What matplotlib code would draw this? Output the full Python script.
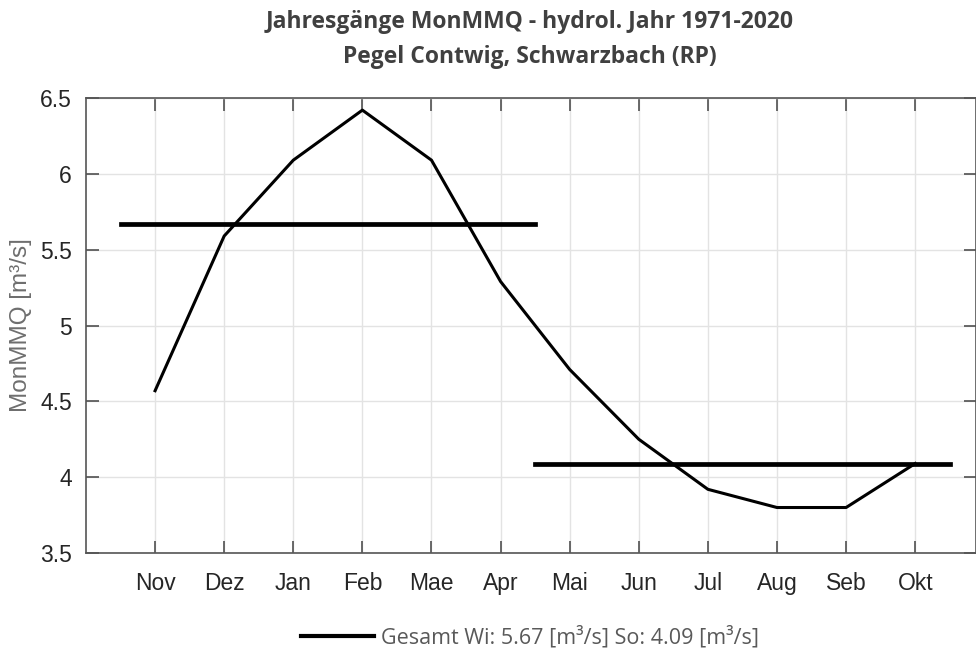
import matplotlib.pyplot as plt
import numpy as np

monate = ['Nov', 'Dez', 'Jan', 'Feb', 'Mae', 'Apr', 'Mai', 'Jun', 'Jul', 'Aug', 'Seb', 'Okt']
monmmq = [4.57, 5.59, 6.09, 6.42, 6.09, 5.29, 4.71, 4.25, 3.92, 3.80, 3.80, 4.09]
mq_winter = 5.67
mq_sommer = 4.09

fig = plt.figure(figsize=(9.76, 6.55), dpi=100)
ax = fig.add_axes([0.0881, 0.1557, 0.9119, 0.6947])

x = np.arange(1, len(monate) + 1)
ax.plot(x, monmmq, color='black', lw=2.2, label='Gesamt Wi: %.2f [m³/s] So: %.2f [m³/s]' % (mq_winter, mq_sommer))
ax.plot([0.5, 6.5], [mq_winter, mq_winter], color='black', lw=3.4)
ax.plot([6.5, 12.5], [mq_sommer, mq_sommer], color='black', lw=3.4)

ax.set_xlim(0, 12.88)
ax.set_ylim(3.5, 6.5)
ax.set_xticks(x)
ax.set_xticklabels(monate)
ax.set_yticks([3.5, 4, 4.5, 5, 5.5, 6, 6.5])
ax.set_yticklabels(['3.5', '4', '4.5', '5', '5.5', '6', '6.5'])
ax.grid(True, color='#e3e3e3', lw=1)
ax.set_axisbelow(True)
ax.tick_params(direction='in', top=True, right=True, length=9, width=1.2,
               color='#505050', labelcolor='#262626', labelsize=16.5)
ax.tick_params(axis='x', pad=14)
ax.tick_params(axis='y', pad=10)
for lbl in ax.get_xticklabels() + ax.get_yticklabels():
    lbl.set_family('Liberation Sans')
for s in ax.spines.values():
    s.set_color('#555555')
    s.set_linewidth(1.2)

ax.set_ylabel('MonMMQ [m³/s]', fontsize=17.5, color='#6e6e6e', family='Liberation Sans', labelpad=6)

fig.text(0.543, 0.985, 'Jahresgänge MonMMQ - hydrol. Jahr 1971-2020', ha='center', va='top',
         fontsize=16.5, fontweight='bold', color='#404040', family='Open Sans')
fig.text(0.543, 0.932, 'Pegel Contwig, Schwarzbach (RP)', ha='center', va='top',
         fontsize=16.5, fontweight='bold', color='#404040', family='Open Sans')

leg = fig.legend(loc='center', bbox_to_anchor=(0.543, 0.027), frameon=False,
                 prop={'family': 'Open Sans', 'size': 15.5}, handlelength=3.4, handletextpad=0.3)
for t in leg.get_texts():
    t.set_color('#595959')
for h in leg.get_lines():
    h.set_linewidth(3)

fig.savefig('out.png', dpi=100)
